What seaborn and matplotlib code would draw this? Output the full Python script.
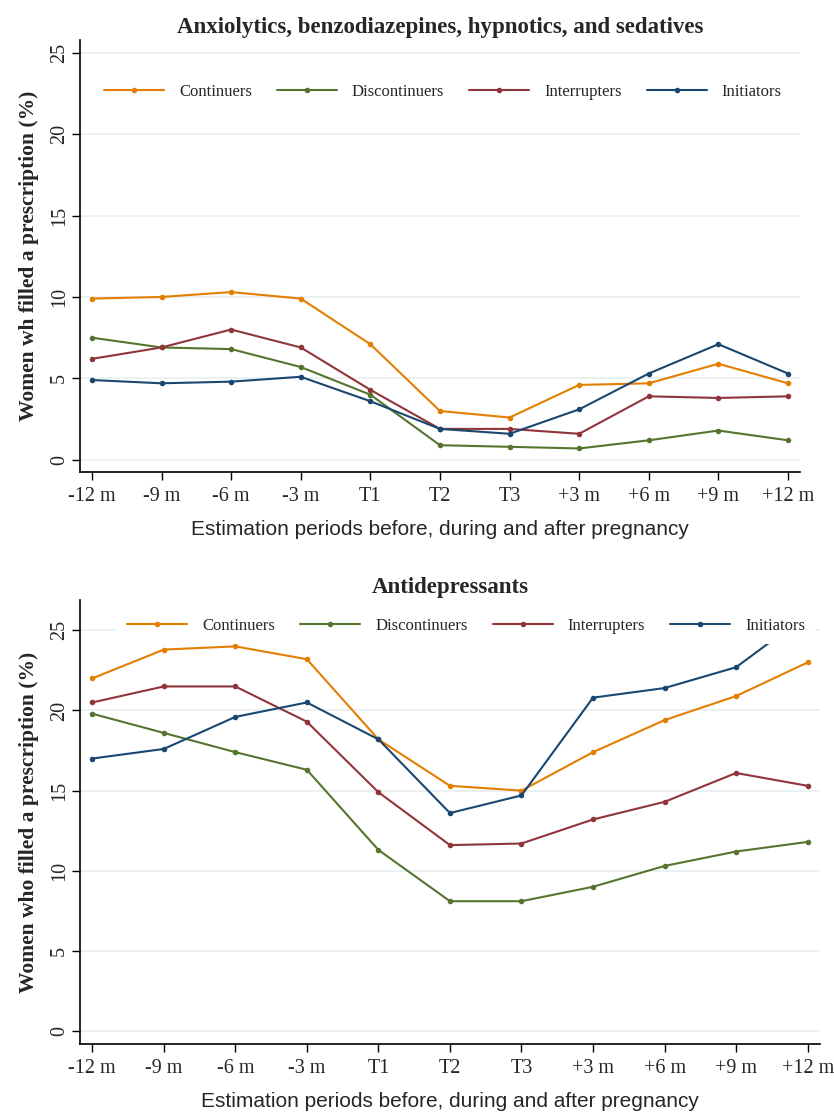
import matplotlib
matplotlib.use("Agg")
import matplotlib.pyplot as plt
import seaborn as sns
import pandas as pd

periods = ["-12 m", "-9 m", "-6 m", "-3 m", "T1", "T2", "T3", "+3 m", "+6 m", "+9 m", "+12 m"]
groups = ["Continuers", "Discontinuers", "Interrupters", "Initiators"]

# Anxiolytics, benzodiazepines, hypnotics, and sedatives
anx_cont = [9.9, 10.0, 10.3, 9.9, 7.1, 3.0, 2.6, 4.6, 4.7, 5.9, 4.7]
anx_disc = [7.5, 6.9, 6.8, 5.7, 4.0, 0.9, 0.8, 0.7, 1.2, 1.8, 1.2]
anx_intr = [6.2, 6.9, 8.0, 6.9, 4.3, 1.9, 1.9, 1.6, 3.9, 3.8, 3.9]
anx_init = [4.9, 4.7, 4.8, 5.1, 3.6, 1.9, 1.6, 3.1, 5.3, 7.1, 5.3]

# Antidepressants
ad_cont = [22.0, 23.8, 24.0, 23.2, 18.2, 15.3, 15.0, 17.4, 19.4, 20.9, 23.0]
ad_disc = [19.8, 18.6, 17.4, 16.3, 11.3, 8.1, 8.1, 9.0, 10.3, 11.2, 11.8]
ad_intr = [20.5, 21.5, 21.5, 19.3, 14.9, 11.6, 11.7, 13.2, 14.3, 16.1, 15.3]
ad_init = [17.0, 17.6, 19.6, 20.5, 18.2, 13.6, 14.7, 20.8, 21.4, 22.7, 26.0]

palette = {"Continuers": "#e37e00", "Discontinuers": "#55752f",
           "Interrupters": "#90353b", "Initiators": "#1a476f"}


def make_df(series):
    rows = []
    for g, vals in zip(groups, series):
        for i, v in enumerate(vals):
            rows.append({"pos": i, "group": g, "value": v})
    return pd.DataFrame(rows)


sns.set_style("white")
plt.rcParams["font.family"] = ["Liberation Serif", "DejaVu Serif"]

fig = plt.figure(figsize=(8.34, 11.13), dpi=100)
ax1 = fig.add_axes([0.096, 0.576, 0.863, 0.388])
ax2 = fig.add_axes([0.096, 0.062, 0.887, 0.399])

panels = [
    (ax1, [anx_cont, anx_disc, anx_intr, anx_init],
     "Anxiolytics, benzodiazepines, hypnotics, and sedatives",
     "Women wh filled a prescription (%)", (-0.74, 25.77), (0.504, 0.88)),
    (ax2, [ad_cont, ad_disc, ad_intr, ad_init],
     "Antidepressants",
     "Women who filled a prescription (%)", (-0.81, 26.9), (0.522, 0.941)),
]

for ax, series, title, ylab, ylim, legpos in panels:
    df = make_df(series)
    sns.lineplot(data=df, x="pos", y="value", hue="group", hue_order=groups,
                 palette=palette, marker="o", markersize=4, markeredgewidth=0,
                 linewidth=1.5, ax=ax)
    ax.set_xlim(-0.17, 10.17)
    ax.set_ylim(*ylim)
    ax.set_xticks(range(len(periods)))
    ax.set_xticklabels(periods, fontsize=14.5)
    ax.set_yticks([0, 5, 10, 15, 20, 25])
    ax.set_yticklabels(["0", "5", "10", "15", "20", "25"], fontsize=14.5,
                       rotation=90, va="center")
    ax.yaxis.grid(True, color="#e6eff1", linewidth=1.2)
    ax.set_axisbelow(True)
    for s in ["top", "right"]:
        ax.spines[s].set_visible(False)
    for s in ["left", "bottom"]:
        ax.spines[s].set_color("black")
        ax.spines[s].set_linewidth(1.2)
    ax.tick_params(axis="both", direction="out", length=6, width=1, color="black",
                   left=True, bottom=True)
    ax.tick_params(axis="y", pad=2)
    ax.tick_params(axis="x", pad=5)
    ax.set_title(title, fontsize=16.5, fontweight="bold", pad=5)
    ax.set_ylabel(ylab, fontsize=15.5, fontweight="bold", labelpad=8)
    ax.set_xlabel("Estimation periods before, during and after pregnancy",
                  fontsize=15, family=["Liberation Sans", "DejaVu Sans"], labelpad=10)
    handles, labels = ax.get_legend_handles_labels()
    leg = ax.legend(handles, labels, loc="center", bbox_to_anchor=legpos, ncol=4,
                    frameon=True, facecolor="white", edgecolor="none", framealpha=1,
                    fontsize=12, handlelength=3.6, columnspacing=1.5,
                    handletextpad=0.9, borderpad=0.6)

fig.savefig("out.png", dpi=100)
